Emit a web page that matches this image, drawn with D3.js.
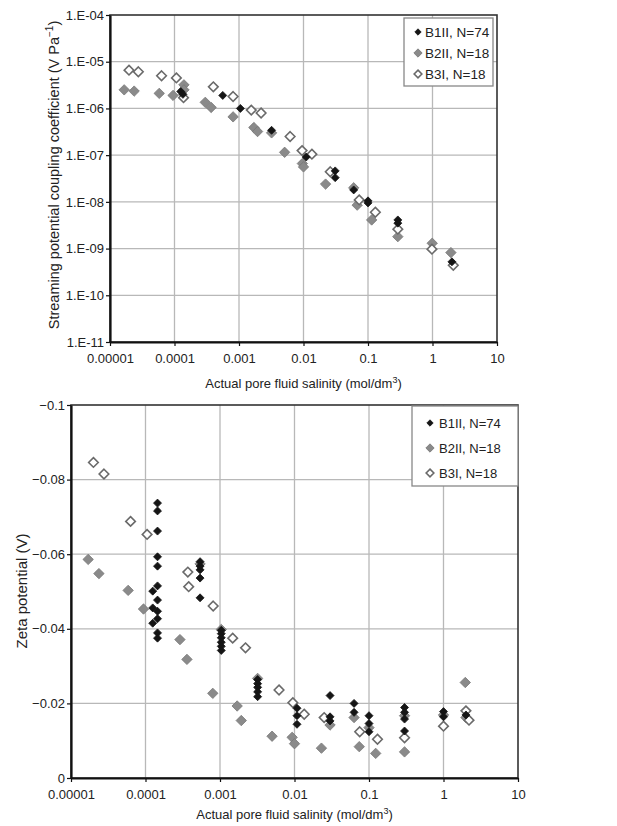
<!DOCTYPE html>
<html>
<head>
<meta charset="utf-8">
<script src="https://cdn.jsdelivr.net/npm/d3@7"></script>
<style>
body { margin: 0; background: #fff; }
svg text { font-family: "Liberation Sans", Arial, sans-serif; fill: #222; }
</style>
</head>
<body>
<div id="container"></div>
<script>
// shared x axis (salinity, mol/dm3)
const salinityTicks = [1e-5, 1e-4, 1e-3, 1e-2, 1e-1, 1, 10]
const salinityLabels = ["0.00001", "0.0001", "0.001", "0.01", "0.1", "1", "10"]

const seriesNames = ["B1II, N=74", "B2II, N=18", "B3I, N=18"]

// top panel: streaming potential coupling coefficient (V/Pa)
const coefTicks = [1e-11, 1e-10, 1e-9, 1e-8, 1e-7, 1e-6, 1e-5, 1e-4]
const coefLabels = ["1.E-11", "1.E-10", "1.E-09", "1.E-08", "1.E-07", "1.E-06", "1.E-05", "1.E-04"]

const coefB1 = [[1.25e-4, 2.3e-6], [1.35e-4, 2.0e-6], [5.6e-4, 1.9e-6], [1.05e-3, 1.0e-6],
  [3.2e-3, 3.4e-7], [1.1e-2, 9.1e-8], [3.1e-2, 4.6e-8], [3.1e-2, 3.3e-8], [6e-2, 1.8e-8],
  [0.1, 1.05e-8], [0.1, 9.5e-9], [0.29, 4.1e-9], [0.29, 3.5e-9], [2.0, 5.2e-10]]
const coefB2 = [[1.66e-5, 2.5e-6], [2.37e-5, 2.35e-6], [5.8e-5, 2.1e-6], [9.5e-5, 1.9e-6],
  [1.4e-4, 3.2e-6], [1.4e-4, 2.5e-6], [3.0e-4, 1.35e-6], [3.7e-4, 1.05e-6], [8.1e-4, 6.6e-7],
  [1.7e-3, 3.9e-7], [1.94e-3, 3.2e-7], [3.2e-3, 3.0e-7], [5.1e-3, 1.15e-7], [9.6e-3, 6.6e-8],
  [1.0e-2, 5.6e-8], [2.2e-2, 2.4e-8], [6e-2, 2.0e-8], [6.8e-2, 8.5e-9], [0.114, 4.1e-9],
  [0.29, 1.8e-9], [0.99, 1.3e-9], [1.93, 8.2e-10]]
const coefB3 = [[1.97e-5, 6.6e-6], [2.75e-5, 6.1e-6], [6.3e-5, 5.0e-6], [1.07e-4, 4.5e-6],
  [1.38e-4, 1.7e-6], [4.0e-4, 2.9e-6], [8.1e-4, 1.8e-6], [1.55e-3, 9.2e-7], [2.2e-3, 8.0e-7],
  [6.2e-3, 2.5e-7], [9.5e-3, 1.25e-7], [1.35e-2, 1.05e-7], [2.6e-2, 4.4e-8], [7.3e-2, 1.1e-8],
  [0.13, 6.0e-9], [0.29, 2.6e-9], [0.98, 9.7e-10], [2.1, 4.4e-10]]

// bottom panel: zeta potential (V)
const zetaTicks = [-0.1, -0.08, -0.06, -0.04, -0.02, 0]
const zetaLabels = ["\u22120.1", "\u22120.08", "\u22120.06", "\u22120.04", "\u22120.02", "0"]

const zetaB1 = [[1.45e-4, -0.0737], [1.45e-4, -0.0716], [1.45e-4, -0.0662], [1.45e-4, -0.0593],
  [1.45e-4, -0.0568], [1.45e-4, -0.0515], [1.45e-4, -0.0477], [1.45e-4, -0.0447], [1.45e-4, -0.0427],
  [1.45e-4, -0.0389], [1.45e-4, -0.0375], [1.25e-4, -0.0501], [1.25e-4, -0.0456], [1.25e-4, -0.0415],
  [5.4e-4, -0.058], [5.4e-4, -0.0568], [5.4e-4, -0.0558], [5.4e-4, -0.0536], [5.4e-4, -0.0483],
  [1.04e-3, -0.0396], [1.04e-3, -0.0387], [1.04e-3, -0.0376], [1.04e-3, -0.0364], [1.04e-3, -0.0353],
  [1.04e-3, -0.0342], [3.2e-3, -0.0264], [3.2e-3, -0.0253], [3.2e-3, -0.0243], [3.2e-3, -0.0231],
  [3.2e-3, -0.0218], [1.08e-2, -0.0187], [1.08e-2, -0.0167], [1.08e-2, -0.0144], [3.0e-2, -0.0221],
  [3.0e-2, -0.0164], [3.0e-2, -0.0153], [6.3e-2, -0.02], [6.3e-2, -0.0176], [0.1, -0.0167],
  [0.1, -0.0146], [0.1, -0.0124], [0.3, -0.0189], [0.3, -0.0176], [0.3, -0.0158], [0.3, -0.0126],
  [1.0, -0.0178], [1.0, -0.0164], [2.0, -0.0169]]
const zetaB2 = [[1.7e-5, -0.0586], [2.37e-5, -0.0548], [5.85e-5, -0.0503], [9.4e-5, -0.0453],
  [2.9e-4, -0.0371], [3.6e-4, -0.0318], [5.4e-4, -0.0574], [1.04e-3, -0.0398], [8e-4, -0.0227],
  [1.7e-3, -0.0193], [1.93e-3, -0.0154], [3.2e-3, -0.0267], [5.0e-3, -0.0112], [9.3e-3, -0.0109],
  [1e-2, -0.0092], [2.3e-2, -0.008], [3e-2, -0.0142], [6.3e-2, -0.0162], [7.4e-2, -0.0084],
  [0.1, -0.0135], [0.123, -0.0066], [0.3, -0.0167], [0.3, -0.007], [1.0, -0.0169],
  [1.96, -0.0256], [2.0, -0.0162]]
const zetaB3 = [[2.0e-5, -0.0846], [2.77e-5, -0.0815], [6.3e-5, -0.0688], [1.05e-4, -0.0653],
  [3.7e-4, -0.0552], [3.8e-4, -0.0513], [8.1e-4, -0.0461], [1.48e-3, -0.0375], [2.2e-3, -0.0349],
  [6.2e-3, -0.0236], [9.5e-3, -0.0202], [1.35e-2, -0.0171], [2.5e-2, -0.0162], [7.5e-2, -0.0124],
  [0.13, -0.0104], [0.3, -0.0108], [1.0, -0.0139], [2.0, -0.018], [2.2, -0.0155]]

const width = 617, height = 826

let svg = d3.select("#container").append("svg")
    .attr("width", width)
    .attr("height", height)

//marker styles: black, grey, open
const styles = [
    {fill: "#151515", stroke: "#151515", sw: 0.8, r: 4},
    {fill: "#8a8a8a", stroke: "#777", sw: 0.8, r: 5.2},
    {fill: "#fff", stroke: "#6a6a6a", sw: 1.6, r: 4.8}
]
const diamond = r => `M0,${-r}L${r},0L0,${r}L${-r},0Z`

function drawPanel(p) {
    let g = svg.append("g")

    //grid
    g.append("g").selectAll("line").data(p.xTicks.slice(1, -1)).enter().append("line")
        .attr("x1", d => p.x(d)).attr("x2", d => p.x(d))
        .attr("y1", p.top).attr("y2", p.bottom)
        .attr("stroke", "#b8b8b8").attr("stroke-width", 1.3)
    g.append("g").selectAll("line").data(p.yTicks.slice(1, -1)).enter().append("line")
        .attr("y1", d => p.y(d)).attr("y2", d => p.y(d))
        .attr("x1", p.left).attr("x2", p.right)
        .attr("stroke", "#b8b8b8").attr("stroke-width", 1.3)

    //frame
    g.append("rect")
        .attr("x", p.left).attr("y", p.top)
        .attr("width", p.right - p.left).attr("height", p.bottom - p.top)
        .attr("fill", "none").attr("stroke", "#333").attr("stroke-width", 1.6)

    //axes
    let xAxis = g.append("g")
        .attr("transform", `translate(0,${p.bottom})`)
        .call(d3.axisBottom(p.x).tickValues(p.xTicks)
            .tickFormat((d, i) => p.xLabels[i]).tickSize(4).tickSizeOuter(0))
    let yAxis = g.append("g")
        .attr("transform", `translate(${p.left},0)`)
        .call(d3.axisLeft(p.y).tickValues(p.yTicks)
            .tickFormat((d, i) => p.yLabels[i]).tickSize(4).tickSizeOuter(0))
    for (let ax of [xAxis, yAxis]) {
        ax.select(".domain").attr("stroke", "#111").attr("stroke-width", 2.2)
        ax.selectAll(".tick line").attr("stroke", "#111").attr("stroke-width", 1.2)
        ax.selectAll(".tick text").attr("font-size", 13).attr("fill", "#222")
            .attr("font-family", "Liberation Sans, Arial, sans-serif")
    }
    xAxis.selectAll(".tick text").attr("dy", "1.05em")
    yAxis.selectAll(".tick text").attr("x", -6)

    //points: grey, open, then black on top
    for (let si of [1, 2, 0]) {
        const s = styles[si]
        g.append("g").selectAll("path").data(p.series[si]).enter().append("path")
            .attr("transform", d => `translate(${p.x(d[0])},${p.y(d[1])})`)
            .attr("d", diamond(s.r))
            .attr("fill", s.fill).attr("stroke", s.stroke).attr("stroke-width", s.sw)
    }

    //legend
    const L = p.legend
    g.append("rect")
        .attr("x", L.x).attr("y", L.y).attr("width", L.w).attr("height", L.h)
        .attr("fill", "#fff").attr("stroke", "#888").attr("stroke-width", 1.3)
    seriesNames.forEach((name, i) => {
        const s = styles[i]
        const cy = L.y + L.row0 + i * L.step
        g.append("path")
            .attr("transform", `translate(${L.x + L.mx},${cy})`)
            .attr("d", diamond(s.r * 0.8))
            .attr("fill", s.fill).attr("stroke", s.stroke).attr("stroke-width", s.sw)
        g.append("text")
            .attr("x", L.x + L.tx).attr("y", cy + 5)
            .attr("font-size", L.fs)
            .text(name)
    })

    //x title
    let xt = g.append("text")
        .attr("x", (p.left + p.right) / 2).attr("y", p.xTitleY)
        .attr("text-anchor", "middle").attr("font-size", 13)
    xt.append("tspan").text("Actual pore fluid salinity (mol/dm")
    xt.append("tspan").attr("dy", -5).attr("font-size", 9).text("3")
    xt.append("tspan").attr("dy", 5).text(")")

    //y title
    let yt = g.append("text")
        .attr("transform", `translate(${p.yTitleX},${p.yTitleC}) rotate(-90)`)
        .attr("text-anchor", "middle").attr("font-size", p.yTitleFs)
    p.yTitle(yt)
}

//top panel
drawPanel({
    left: 110, right: 497, top: 15, bottom: 342,
    x: d3.scaleLog().domain([1e-5, 10]).range([110, 497]),
    y: d3.scaleLog().domain([1e-11, 1e-4]).range([342, 15]),
    xTicks: salinityTicks, xLabels: salinityLabels,
    yTicks: coefTicks, yLabels: coefLabels,
    series: [coefB1, coefB2, coefB3],
    legend: {x: 404, y: 18, w: 89, h: 68, row0: 14, step: 21, mx: 14, tx: 21, fs: 13.5},
    xTitleY: 388, yTitleX: 59, yTitleC: 175, yTitleFs: 14.5,
    yTitle: t => {
        t.append("tspan").text("Streaming potential coupling coefficient (V Pa")
        t.append("tspan").attr("dy", -6).attr("font-size", 10).text("\u22121")
        t.append("tspan").attr("dy", 6).text(")")
    }
})

//bottom panel
drawPanel({
    left: 71, right: 518, top: 405, bottom: 778,
    x: d3.scaleLog().domain([1e-5, 10]).range([71, 518]),
    y: d3.scaleLinear().domain([-0.1, 0]).range([405, 778]),
    xTicks: salinityTicks, xLabels: salinityLabels,
    yTicks: zetaTicks, yLabels: zetaLabels,
    series: [zetaB1, zetaB2, zetaB3],
    legend: {x: 412, y: 406, w: 106, h: 80, row0: 17, step: 25, mx: 18, tx: 27, fs: 13},
    xTitleY: 819, yTitleX: 27, yTitleC: 591, yTitleFs: 15,
    yTitle: t => t.text("Zeta potential (V)")
})
</script>
</body>
</html>
